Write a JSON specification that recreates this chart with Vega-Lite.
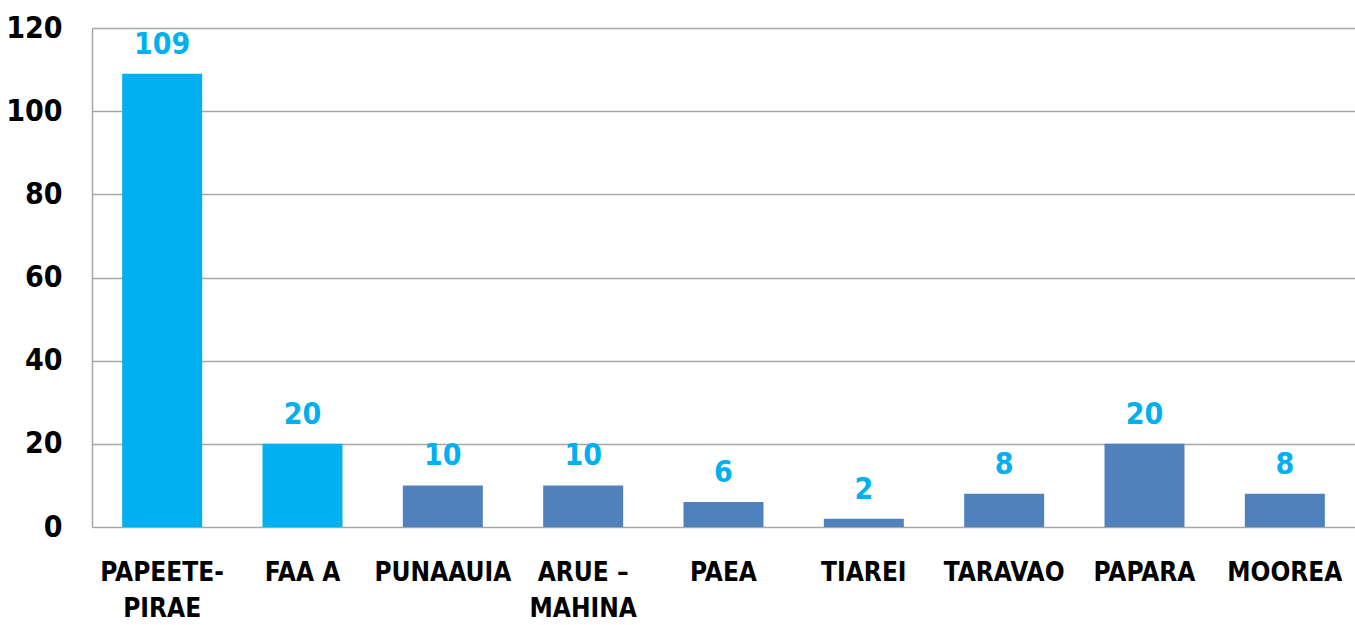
{
  "$schema": "https://vega.github.io/schema/vega-lite/v6.json",
  "width": 1263,
  "height": 499,
  "autosize": {"type": "none"},
  "padding": {"left": 92, "top": 28, "right": 0, "bottom": 98},
  "background": "white",
  "config": {
    "view": {"stroke": null},
    "font": "Liberation Sans Narrow, DejaVu Sans Condensed, sans-serif"
  },
  "data": {
    "values": [
      {"zone": "PAPEETE-PIRAE", "valeur": 109, "groupe": "A"},
      {"zone": "FAA A", "valeur": 20, "groupe": "A"},
      {"zone": "PUNAAUIA", "valeur": 10, "groupe": "B"},
      {"zone": "ARUE – MAHINA", "valeur": 10, "groupe": "B"},
      {"zone": "PAEA", "valeur": 6, "groupe": "B"},
      {"zone": "TIAREI", "valeur": 2, "groupe": "B"},
      {"zone": "TARAVAO", "valeur": 8, "groupe": "B"},
      {"zone": "PAPARA", "valeur": 20, "groupe": "B"},
      {"zone": "MOOREA", "valeur": 8, "groupe": "B"}
    ]
  },
  "encoding": {
    "x": {
      "field": "zone",
      "type": "nominal",
      "sort": null,
      "scale": {"paddingInner": 0.43, "paddingOuter": 0.215},
      "axis": {
        "title": null,
        "labelAngle": 0,
        "domain": false,
        "ticks": false,
        "labelPadding": 32,
        "labelFontSize": 26,
        "labelFontWeight": "bold",
        "labelColor": "#000000",
        "labelBaseline": "top",
        "labelLineHeight": 36,
        "labelExpr": "datum.value == 'PAPEETE-PIRAE' ? ['PAPEETE-', 'PIRAE'] : datum.value == 'ARUE – MAHINA' ? ['ARUE –', 'MAHINA'] : datum.value"
      }
    },
    "y": {
      "field": "valeur",
      "type": "quantitative",
      "scale": {"domain": [0, 120], "nice": false},
      "axis": {
        "title": null,
        "values": [0, 20, 40, 60, 80, 100, 120],
        "ticks": false,
        "domain": true,
        "domainColor": "#A6A6A6",
        "domainWidth": 1.5,
        "grid": true,
        "gridColor": "#A6A6A6",
        "gridWidth": 1.5,
        "labelPadding": 30,
        "labelFontSize": 30,
        "labelFontWeight": "bold",
        "labelColor": "#000000"
      }
    }
  },
  "layer": [
    {
      "mark": {"type": "bar"},
      "encoding": {
        "color": {
          "field": "groupe",
          "type": "nominal",
          "scale": {"domain": ["A", "B"], "range": ["#00B0F0", "#4F81BD"]},
          "legend": null
        }
      }
    },
    {
      "mark": {"type": "text", "baseline": "alphabetic", "dy": -20, "fontSize": 30, "fontWeight": "bold", "color": "#00B0F0"},
      "encoding": {
        "text": {"field": "valeur", "type": "quantitative"}
      }
    }
  ]
}
